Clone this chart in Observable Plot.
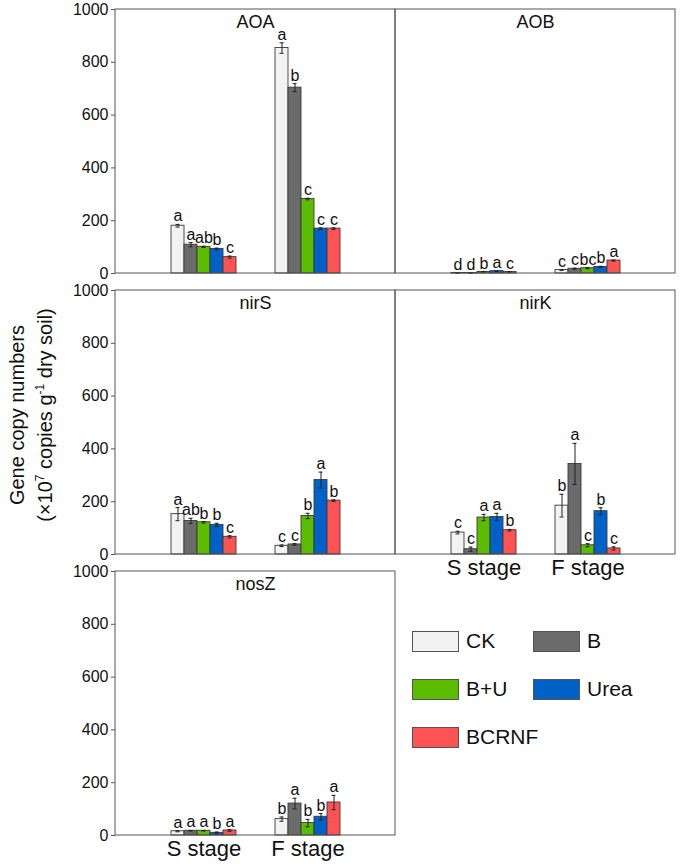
<!DOCTYPE html>
<html><head><meta charset="utf-8">
<script src="https://cdn.jsdelivr.net/npm/d3@7"></script>
<script src="https://cdn.jsdelivr.net/npm/@observablehq/plot@0.6"></script>
<style>
body{margin:0;background:#fff;font-family:"Liberation Sans",Arial,sans-serif;color:#111;}
#wrap{position:relative;width:681px;height:866px;}
#ylab{position:absolute;left:31px;top:415px;transform:translate(-50%,-50%) rotate(-90deg);text-align:center;font-size:20px;line-height:28px;white-space:nowrap;}
#ylab sup{font-size:12px;line-height:0;}
.lg{position:absolute;display:flex;align-items:center;font-size:21px;}
.sw{width:47px;height:21px;border:1px solid #555;margin-right:7px;box-sizing:border-box;}
</style></head>
<body><div id="wrap"></div>
<script>
// ---- data ----
const genes = ["AOA", "AOB", "nirS", "nirK", "nosZ"];
const panelCol = [0, 1, 0, 1, 0];
const panelRow = [0, 0, 1, 1, 2];
const stages = ["S stage", "F stage"];
const treatments = ["CK", "B", "B+U", "Urea", "BCRNF"];
const colors = ["#f2f2f2", "#6b6b6b", "#5cbd00", "#0061c9", "#ff5252"];
const yTicks = [0, 200, 400, 600, 800, 1000];

// values: S stage (CK, B, B+U, Urea, BCRNF), then F stage (CK, B, B+U, Urea, BCRNF)
const AOA_mean = [181, 109, 101, 93, 62, 854, 704, 282, 170, 170];
const AOA_err = [5, 8, 2, 3, 4, 20, 15, 3, 3, 3];
const AOA_letter = ["a", "a", "ab", "b", "c", "a", "b", "c", "c", "c"];

const AOB_mean = [2, 2, 6, 9, 6, 13, 18, 20, 25, 49];
const AOB_err = [0.5, 0.5, 1, 1, 1, 1, 2, 2, 2, 2];
const AOB_letter = ["d", "d", "b", "a", "c", "c", "c", "bc", "b", "a"];

const nirS_mean = [153, 127, 122, 112, 67, 33, 38, 146, 282, 204];
const nirS_err = [25, 10, 3, 6, 4, 3, 3, 10, 30, 3];
const nirS_letter = ["a", "ab", "b", "b", "c", "c", "c", "b", "a", "b"];

const nirK_mean = [83, 20, 140, 142, 92, 185, 343, 35, 164, 23];
const nirK_err = [5, 8, 12, 14, 3, 43, 78, 6, 13, 6];
const nirK_letter = ["c", "c", "a", "a", "b", "b", "a", "c", "b", "c"];

const nosZ_mean = [16, 18, 18, 10, 19, 62, 121, 47, 71, 125];
const nosZ_err = [2, 1, 1, 3, 3, 8, 20, 14, 12, 27];
const nosZ_letter = ["a", "a", "a", "b", "a", "b", "a", "b", "b", "a"];

const series = {
  AOA: [AOA_mean, AOA_err, AOA_letter],
  AOB: [AOB_mean, AOB_err, AOB_letter],
  nirS: [nirS_mean, nirS_err, nirS_letter],
  nirK: [nirK_mean, nirK_err, nirK_letter],
  nosZ: [nosZ_mean, nosZ_err, nosZ_letter]
};

// ---- build table ----
const rows = [];
genes.forEach((g, gi) => {
  const [m, e, l] = series[g];
  stages.forEach((s, si) => {
    treatments.forEach((t, ti) => {
      const k = si * treatments.length + ti;
      rows.push({gene: g, col: panelCol[gi], row: panelRow[gi], stage: s, treatment: t,
        key: s + "|" + t, mean: m[k], err: e[k], letter: l[k]});
    });
  });
});
const panels = genes.map((g, gi) => ({gene: g, col: panelCol[gi], row: panelRow[gi]}));
const xDomain = [
  ...treatments.map(t => stages[0] + "|" + t),
  "gap1", "gap2", "gap3",
  ...treatments.map(t => stages[1] + "|" + t)
];
const xTicks = stages.map(s => s + "|" + treatments[2]);

const font = "'Liberation Sans', Arial, sans-serif";
const chart = Plot.plot({
  width: 681, height: 866,
  marginLeft: 114, marginRight: 6, marginTop: 8, marginBottom: 31,
  style: {fontFamily: font, fontSize: "16px", color: "#111", background: "transparent", overflow: "visible"},
  fx: {domain: [0, 1], padding: 0, axis: null},
  fy: {domain: [0, 1, 2], paddingInner: 0.062, paddingOuter: 0, axis: null},
  x: {domain: xDomain, paddingInner: 0, paddingOuter: 4.2, axis: null},
  y: {domain: [0, 1000], axis: null},
  color: {domain: treatments, range: colors},
  marks: [
    Plot.axisY({ticks: yTicks, tickFormat: d => String(d), tickSize: 4, tickPadding: 3, fontSize: 16, label: null, stroke: "#555"}),
    Plot.axisX({ticks: xTicks, tickFormat: d => d.split("|")[0], tickSize: 0, tickPadding: 5, fontSize: 22, label: null}),
    Plot.barY(rows, {fx: "col", fy: "row", x: "key", y: "mean", fill: "treatment", stroke: "#3a3a3a", strokeWidth: 0.9}),
    Plot.ruleX(rows, {fx: "col", fy: "row", x: "key", y1: d => Math.max(0, d.mean - d.err), y2: d => d.mean + d.err, stroke: "#222", strokeWidth: 1}),
    Plot.tickY(rows, {fx: "col", fy: "row", x: "key", y: d => Math.max(0, d.mean - d.err), stroke: "#222", insetLeft: 4.5, insetRight: 4.5}),
    Plot.tickY(rows, {fx: "col", fy: "row", x: "key", y: d => d.mean + d.err, stroke: "#222", insetLeft: 4.5, insetRight: 4.5}),
    Plot.text(rows, {fx: "col", fy: "row", x: "key", y: d => d.mean + d.err, text: "letter", dy: -3, lineAnchor: "bottom", fontSize: 16, fill: "#111"}),
    Plot.text(panels, {fx: "col", fy: "row", text: "gene", frameAnchor: "top", dy: 6, lineAnchor: "top", fontSize: 18, fill: "#111"}),
    Plot.rect(panels, {fx: "col", fy: "row", fill: "none", stroke: "#555", strokeWidth: 1})
  ]
});

const wrap = document.getElementById("wrap");
wrap.appendChild(chart);

const ylab = document.createElement("div");
ylab.id = "ylab";
ylab.innerHTML = "Gene copy numbers<br>(\u00d710<sup>7</sup> copies g<sup>-1</sup> dry soil)";
wrap.appendChild(ylab);

treatments.forEach((t, i) => {
  const it = document.createElement("div");
  it.className = "lg";
  it.style.left = (412 + (i % 2) * 121) + "px";
  it.style.top = (629 + Math.floor(i / 2) * 48) + "px";
  const sw = document.createElement("div");
  sw.className = "sw";
  sw.style.background = colors[i];
  it.appendChild(sw);
  const tx = document.createElement("span");
  tx.textContent = t;
  it.appendChild(tx);
  wrap.appendChild(it);
});
</script>
</body></html>
